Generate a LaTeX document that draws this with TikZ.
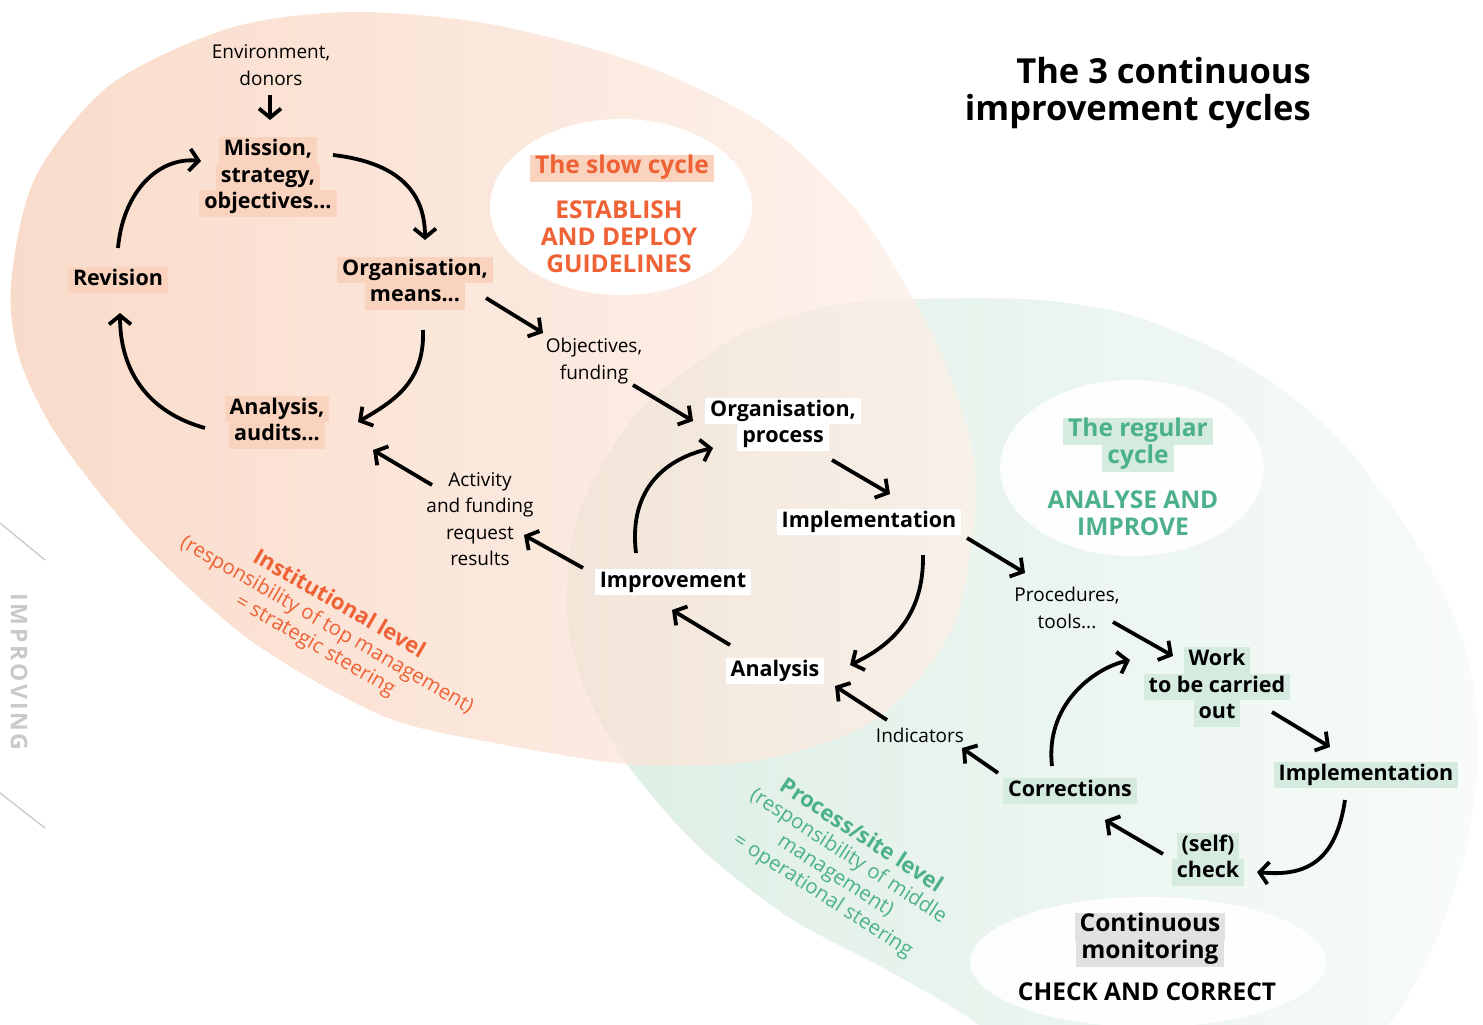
\documentclass[tikz,border=0pt]{standalone}
\usepackage{fontspec}
\setmainfont{Open Sans}
\usetikzlibrary{arrows.meta,calc}

\definecolor{orangeT}{HTML}{EE6236}
\definecolor{peach}{HTML}{F9D3BE}
\definecolor{orangeA}{HTML}{F7CFB8}
\definecolor{orangeB}{HTML}{FDF0E9}
\definecolor{greenT}{HTML}{4CB18A}
\definecolor{greenbox}{HTML}{D5EBE0}
\definecolor{greenA}{HTML}{DCEEE4}
\definecolor{greenB}{HTML}{F8FBF9}
\definecolor{greybox}{HTML}{E1E1E1}
\definecolor{rulegrey}{HTML}{C9C9C9}

\setlength{\fboxsep}{0pt}
% one highlighted line of a label
\newcommand\hlline[2]{\colorbox{#1}{\hspace{5pt}\strut#2\hspace{5pt}}}

\tikzset{
  lbl/.style={inner sep=0pt, align=center, font=\fontsize{19}{26.5}\selectfont},
  blbl/.style={lbl, font=\fontsize{21.5}{26.5}\selectfont\bfseries},
  arr/.style={line width=3.8pt, -{Straight Barb[length=9pt,width=22pt]}},
  cyclehead/.style={inner sep=0pt, align=center, font=\fontsize{24.5}{27}\selectfont\bfseries},
  levellbl/.style={inner sep=0pt, align=center, font=\fontsize{20.5}{23.5}\selectfont},
}

\begin{document}
\begin{tikzpicture}[x=1pt,y=-1pt]
\useasboundingbox (0,0) rectangle (1483,1025);

% the two large cycle regions
\begin{scope}
  \clip (0,0) rectangle (1483,1025);
  \shade[left color=greenA, right color=greenB]
    plot[smooth cycle] coordinates {
      (913,299) (1040,300) (1141,318) (1250,368) (1340,440) (1420,550) (1466,650)
      (1478,750) (1466,850) (1436,940) (1392,1020) (1320,1090) (1200,1125)
      (1070,1085) (960,1012) (880,966) (790,918) (700,848) (630,768) (585,690)
      (567,610) (580,510) (640,410) (740,335) (830,306)};
  \shade[left color=orangeA, right color=orangeB, fill opacity=0.75]
    plot[smooth cycle] coordinates {
      (11,285) (35,178) (110,85) (230,28) (351,12) (490,24) (640,64) (765,125)
      (860,215) (930,330) (968,430) (975,510) (952,630) (875,720) (760,760)
      (638,765) (500,744) (383,716) (250,640) (140,540) (60,440) (20,360)};
\end{scope}

% white ellipses holding the cycle names
\fill[white] (621,207) ellipse [x radius=131, y radius=88];
\fill[white, opacity=0.9] (1132,468) ellipse [x radius=132, y radius=88];
\fill[white, opacity=0.9] (1148,962) ellipse [x radius=178, y radius=65];

% side marker
\draw[rulegrey, line width=1.3pt] (0,523) -- (45,560);
\draw[rulegrey, line width=1.3pt] (0,793) -- (45,828);
\node[rotate=-90, text=rulegrey, inner sep=0pt,
      font=\fontsize{23}{24}\selectfont\bfseries\addfontfeatures{LetterSpace=12}] (side) at (19,672) {IMPROVING};

% title
\node[inner sep=0pt, align=right, anchor=east,
      font=\fontsize{34.5}{37}\selectfont\bfseries] (title) at (1311,93)
  {The 3 continuous\\improvement cycles};

% cycle names
\node[cyclehead, text=orangeT] (slowt) at (622,168) {\hlline{peach}{The slow cycle}};
\node[cyclehead, text=orangeT] (slowd) at (619,237)
  {ESTABLISH\\AND DEPLOY\\GUIDELINES};
\node[cyclehead, text=greenT] (regt) at (1138,445)
  {\hlline{greenbox}{The regular}\\\hlline{greenbox}{cycle}};
\node[cyclehead, text=greenT] (regd) at (1133,513)
  {ANALYSE AND\\IMPROVE};
\node[cyclehead] (mont) at (1150,940)
  {\hlline{greybox}{Continuous}\\\hlline{greybox}{monitoring}};
\node[cyclehead] (mond) at (1147,992) {CHECK AND CORRECT};

% slow cycle
\node[lbl] (env) at (271,65) {Environment,\\donors};
\node[blbl] (mis) at (268,177)
  {\hlline{peach}{Mission,}\\\hlline{peach}{strategy,}\\\hlline{peach}{objectives...}};
\node[blbl] (rev) at (118,280) {\hlline{peach}{Revision}};
\node[blbl] (orgm) at (415,283) {\hlline{peach}{Organisation,}\\\hlline{peach}{means...}};
\node[blbl] (ana1) at (277,422) {\hlline{peach}{Analysis,}\\\hlline{peach}{audits...}};

% regular cycle
\node[lbl] (obj) at (594,361) {Objectives,\\funding};
\node[blbl] (orgp) at (783,424) {\hlline{white}{Organisation,}\\\hlline{white}{process}};
\node[blbl] (impl1) at (869,522) {\hlline{white}{Implementation}};
\node[blbl] (ana2) at (775,671) {\hlline{white}{Analysis}};
\node[blbl] (impr) at (673,582) {\hlline{white}{Improvement}};
\node[lbl] (act) at (480,519) {Activity\\and funding\\request\\results};

% continuous monitoring
\node[lbl] (proc) at (1067,608) {Procedures,\\tools...};
\node[blbl] (work) at (1217,687)
  {\hlline{greenbox}{Work}\\\hlline{greenbox}{to be carried}\\\hlline{greenbox}{out}};
\node[blbl] (impl2) at (1366,775) {\hlline{greenbox}{Implementation}};
\node[blbl] (chk) at (1208,859) {\hlline{greenbox}{(self)}\\\hlline{greenbox}{check}};
\node[blbl] (corr) at (1070,791) {\hlline{greenbox}{Corrections}};
\node[lbl] (ind) at (920,735) {Indicators};

% level labels
\node[levellbl, text=orangeT, rotate=-30] (instl) at (327,625)
  {{\fontsize{22}{23.5}\selectfont\bfseries Institutional level}\\(responsibility of top management)\\= strategic steering};
\node[levellbl, text=greenT, rotate=-33] (procl) at (842,866)
  {{\fontsize{22}{23.5}\selectfont\bfseries Process/site level}\\(responsibility of middle\\management)\\= operational steering};

% slow cycle connectors
\draw[arr] ($(env)+(-1,30)$) -- ($(mis)+(2,-57)$);
\draw[arr] ($(rev)+(0,-32)$) .. controls ($(rev)+(5,-88)$) and ($(mis)+(-110,-20)$) .. ($(mis)+(-67,-16)$);
\draw[arr] ($(mis)+(65,-22)$) .. controls ($(mis)+(125,-15)$) and ($(orgm)+(10,-95)$) .. ($(orgm)+(10,-43)$);
\draw[arr] ($(orgm)+(8,47)$) .. controls ($(orgm)+(10,100)$) and ($(ana1)+(115,-20)$) .. ($(ana1)+(81,0)$);
\draw[arr] ($(ana1)+(-72,6)$) .. controls ($(ana1)+(-130,-10)$) and ($(rev)+(2,90)$) .. ($(rev)+(2,33)$);

% links between the cycles
\draw[arr] ($(orgm)+(71,15)$) -- ($(obj)+(-51,-28)$);
\draw[arr] ($(obj)+(39,24)$) -- ($(orgp)+(-90,-3)$);
\draw[arr] ($(act)+(-48,-34)$) -- ($(ana1)+(96,28)$);
\draw[arr] ($(impr)+(-90,-14)$) -- ($(act)+(44,16)$);

% regular cycle connectors
\draw[arr] ($(orgp)+(49,36)$) -- ($(impl1)+(21,-28)$);
\draw[arr] ($(impl1)+(54,33)$) .. controls ($(impl1)+(55,95)$) and ($(ana2)+(115,-25)$) .. ($(ana2)+(75,-6)$);
\draw[arr] ($(ana2)+(-45,-26)$) -- ($(impr)+(-1,28)$);
\draw[arr] ($(impr)+(-37,-29)$) .. controls ($(impr)+(-45,-95)$) and ($(orgp)+(-115,34)$) .. ($(orgp)+(-70,24)$);
\draw[arr] ($(impl1)+(98,16)$) -- ($(proc)+(-42,-35)$);
\draw[arr] ($(ind)+(-33,-15)$) -- ($(ana2)+(60,15)$);

% continuous monitoring connectors
\draw[arr] ($(proc)+(46,14)$) -- ($(work)+(-44,-31)$);
\draw[arr] ($(work)+(55,25)$) -- ($(impl2)+(-36,-28)$);
\draw[arr] ($(impl2)+(-21,25)$) .. controls ($(impl2)+(-30,85)$) and ($(chk)+(100,18)$) .. ($(chk)+(49,13)$);
\draw[arr] ($(chk)+(-45,-5)$) -- ($(corr)+(35,29)$);
\draw[arr] ($(corr)+(-18,-25)$) .. controls ($(corr)+(-25,-85)$) and ($(work)+(-125,-18)$) .. ($(work)+(-87,-27)$);
\draw[arr] ($(corr)+(-72,-18)$) -- ($(ind)+(42,13)$);
\end{tikzpicture}
\end{document}
